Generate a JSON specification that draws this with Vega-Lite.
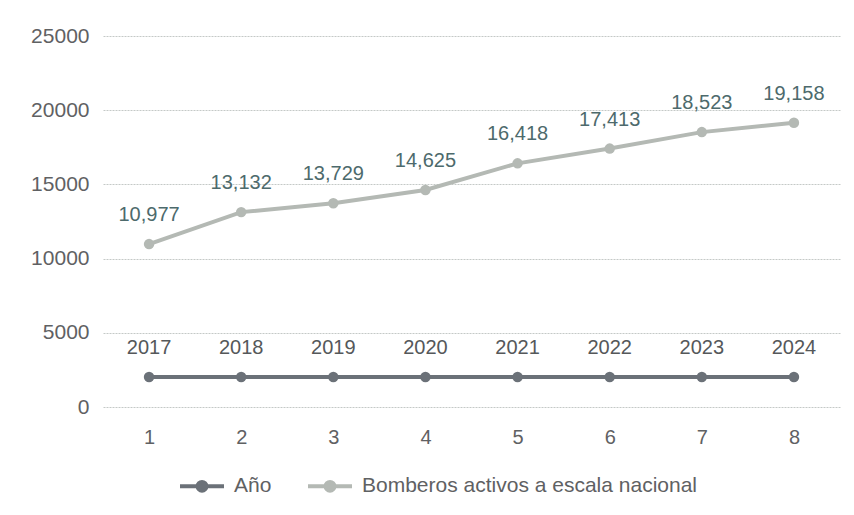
{
  "$schema": "https://vega.github.io/schema/vega-lite/v6.json",
  "width": 737,
  "height": 371,
  "autosize": "none",
  "padding": {"left": 103, "top": 36, "right": 14, "bottom": 108},
  "background": "white",
  "config": {
    "view": {"stroke": null},
    "font": "Liberation Sans",
    "axis": {"labelFont": "Liberation Sans", "labelFontSize": 20, "labelColor": "#5f6163", "domain": false, "ticks": false},
    "legend": {"labelFont": "Liberation Sans", "labelFontSize": 21, "labelColor": "#5f6163"}
  },
  "data": {
    "values": [
      {"x": "1", "serie": "Año", "valor": 2017},
      {"x": "2", "serie": "Año", "valor": 2018},
      {"x": "3", "serie": "Año", "valor": 2019},
      {"x": "4", "serie": "Año", "valor": 2020},
      {"x": "5", "serie": "Año", "valor": 2021},
      {"x": "6", "serie": "Año", "valor": 2022},
      {"x": "7", "serie": "Año", "valor": 2023},
      {"x": "8", "serie": "Año", "valor": 2024},
      {"x": "1", "serie": "Bomberos activos a escala nacional", "valor": 10977},
      {"x": "2", "serie": "Bomberos activos a escala nacional", "valor": 13132},
      {"x": "3", "serie": "Bomberos activos a escala nacional", "valor": 13729},
      {"x": "4", "serie": "Bomberos activos a escala nacional", "valor": 14625},
      {"x": "5", "serie": "Bomberos activos a escala nacional", "valor": 16418},
      {"x": "6", "serie": "Bomberos activos a escala nacional", "valor": 17413},
      {"x": "7", "serie": "Bomberos activos a escala nacional", "valor": 18523},
      {"x": "8", "serie": "Bomberos activos a escala nacional", "valor": 19158}
    ]
  },
  "encoding": {
    "x": {
      "field": "x", "type": "ordinal",
      "scale": {"type": "point", "padding": 0.5},
      "axis": {"title": null, "labelAngle": 0, "labelPadding": 20, "grid": false}
    },
    "y": {
      "field": "valor", "type": "quantitative",
      "scale": {"domain": [0, 25000], "nice": false},
      "axis": {"title": null, "values": [0, 5000, 10000, 15000, 20000, 25000], "format": "d", "labelPadding": 14, "labelFontSize": 21, "grid": true, "gridColor": "#c4c9c7", "gridWidth": 1, "gridDash": [2, 1]}
    }
  },
  "layer": [
    {
      "mark": {"type": "line", "strokeWidth": 4},
      "encoding": {
        "color": {
          "field": "serie", "type": "nominal",
          "scale": {"domain": ["Año", "Bomberos activos a escala nacional"], "range": ["#6b7178", "#b4b9b4"]},
          "legend": {
            "title": null, "orient": "none", "direction": "horizontal",
            "legendX": 75, "legendY": 426,
            "symbolType": "M-1,0H1M-0.2,0A0.2,0.2 0 1,1 0.2,0A0.2,0.2 0 1,1 -0.2,0",
            "symbolSize": 1936, "symbolStrokeWidth": 4,
            "labelOffset": 8, "columnPadding": 28, "labelLimit": 0
          }
        }
      }
    },
    {
      "mark": {"type": "point", "filled": true, "size": 110, "opacity": 1},
      "encoding": {
        "color": {"field": "serie", "type": "nominal", "scale": {"domain": ["Año", "Bomberos activos a escala nacional"], "range": ["#6b7178", "#b4b9b4"]}, "legend": null}
      }
    },
    {
      "transform": [{"filter": "datum.serie === 'Año'"}],
      "mark": {"type": "text", "dy": -29, "fontSize": 20, "color": "#55585a"},
      "encoding": {"text": {"field": "valor", "type": "quantitative", "format": "d"}}
    },
    {
      "transform": [{"filter": "datum.serie !== 'Año'"}],
      "mark": {"type": "text", "dy": -29, "fontSize": 20, "color": "#4d6a6c"},
      "encoding": {"text": {"field": "valor", "type": "quantitative", "format": ","}}
    }
  ]
}
